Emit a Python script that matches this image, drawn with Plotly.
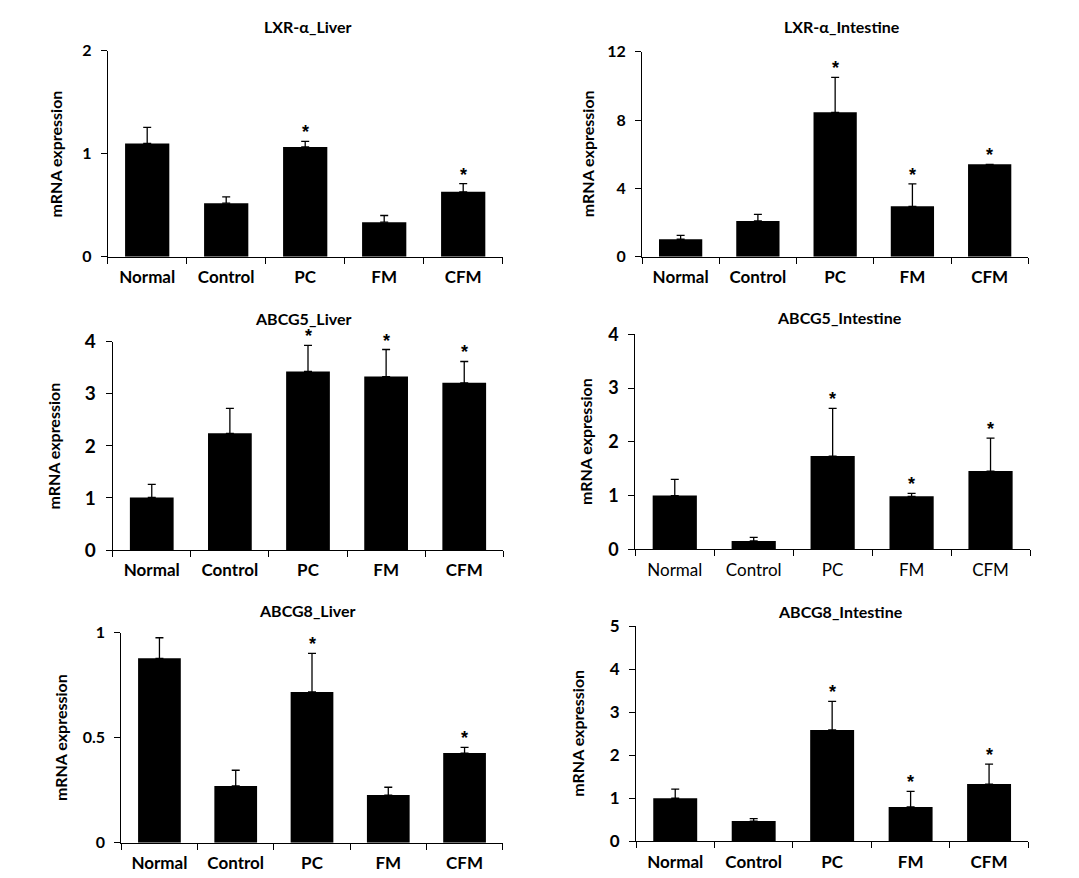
import plotly.graph_objects as go

W, H = 1079, 878
categories = ["Normal", "Control", "PC", "FM", "CFM"]

panel_titles = ["LXR-α_Liver", "LXR-α_Intestine", "ABCG5_Liver",
                "ABCG5_Intestine", "ABCG8_Liver", "ABCG8_Intestine"]

lxr_liver_mean = [1.10, 0.52, 1.065, 0.335, 0.63]
lxr_liver_err = [0.155, 0.06, 0.055, 0.065, 0.08]
lxr_liver_sig = [False, False, True, False, True]

lxr_int_mean = [1.02, 2.09, 8.45, 2.95, 5.41]
lxr_int_err = [0.23, 0.39, 2.05, 1.31, 0.0]
lxr_int_sig = [False, False, True, True, True]

abcg5_liver_mean = [1.01, 2.24, 3.43, 3.33, 3.21]
abcg5_liver_err = [0.25, 0.48, 0.50, 0.52, 0.41]
abcg5_liver_sig = [False, False, True, True, True]

abcg5_int_mean = [1.00, 0.155, 1.735, 0.985, 1.455]
abcg5_int_err = [0.30, 0.065, 0.885, 0.055, 0.615]
abcg5_int_sig = [False, False, True, True, True]

abcg8_liver_mean = [0.878, 0.27, 0.718, 0.227, 0.427]
abcg8_liver_err = [0.098, 0.075, 0.184, 0.037, 0.027]
abcg8_liver_sig = [False, False, True, False, True]

abcg8_int_mean = [1.00, 0.47, 2.585, 0.796, 1.33]
abcg8_int_err = [0.21, 0.055, 0.665, 0.364, 0.46]
abcg8_int_sig = [False, False, True, True, True]

y_ticks = [[0, 1, 2], [0, 4, 8, 12], [0, 1, 2, 3, 4],
           [0, 1, 2, 3, 4], [0, 0.5, 1], [0, 1, 2, 3, 4, 5]]
y_max = [2, 12, 4, 4, 1, 5]

means = [lxr_liver_mean, lxr_int_mean, abcg5_liver_mean,
         abcg5_int_mean, abcg8_liver_mean, abcg8_int_mean]
errs = [lxr_liver_err, lxr_int_err, abcg5_liver_err,
        abcg5_int_err, abcg8_liver_err, abcg8_int_err]
sigs = [lxr_liver_sig, lxr_int_sig, abcg5_liver_sig,
        abcg5_int_sig, abcg8_liver_sig, abcg8_int_sig]

# plot-area boxes in pixels: left, right, top, bottom
boxes = [(107.7, 502.7, 50.7, 256.7), (642, 1028.3, 51.7, 256.7),
         (112.7, 503.3, 341.7, 550), (635.3, 1030, 334.3, 549.3),
         (121.3, 502.7, 632.7, 842.7), (636, 1028.3, 626, 841.3)]
ytitle_shift = [-52, -55, -59, -50, -61, -58]
title_shift = [24, 25, 23, 17, 22, 15]
title_xshift = [3, 7, -5, 7, -5, 8]
ytick_size = [16, 16, 19, 18, 16, 17]

FONT = "Lato"
fig = go.Figure()
annotations = []
layout = dict(width=W, height=H, margin=dict(l=0, r=0, t=0, b=0,
                                             autoexpand=False),
              paper_bgcolor="white", plot_bgcolor="white", showlegend=False,
              bargap=0.44, font=dict(family=FONT, color="black"))

for i in range(6):
    n = "" if i == 0 else str(i + 1)
    xa, ya = "x" + n, "y" + n
    l, r, t, b = boxes[i]
    fig.add_trace(go.Bar(
        x=categories, y=means[i], xaxis=xa, yaxis=ya,
        marker=dict(color="black", line=dict(width=0)),
        error_y=dict(type="data", symmetric=False, array=errs[i],
                     arrayminus=[0] * 5, color="black",
                     thickness=1.3, width=4)))
    xfont = dict(family=FONT, size=17, color="black",
                 weight="normal" if i == 3 else "bold")
    layout["xaxis" + n] = dict(
        domain=[l / W, r / W], anchor=ya, type="category",
        range=[-0.5, 4.5], showline=True, linecolor="black", linewidth=1,
        ticks="outside", tickson="boundaries", ticklen=6, tickcolor="black",
        tickwidth=1, tickfont=xfont, ticklabelstandoff=5, automargin=False,
        showgrid=False, zeroline=False, fixedrange=True)
    layout["yaxis" + n] = dict(
        domain=[1 - b / H, 1 - t / H], anchor=xa, range=[0, y_max[i]],
        tickvals=y_ticks[i], ticktext=[str(v) for v in y_ticks[i]],
        showline=True, linecolor="black", linewidth=1, ticks="outside",
        ticklen=6, tickcolor="black", tickwidth=1, automargin=False,
        tickfont=dict(family=FONT, size=ytick_size[i], color="black",
                      weight="bold"),
        ticklabelstandoff=6, showgrid=False, zeroline=False,
        fixedrange=True)
    annotations.append(dict(
        text="mRNA expression", xref=xa + " domain", yref=ya + " domain",
        x=0, y=0.5, xshift=ytitle_shift[i], textangle=-90,
        showarrow=False, xanchor="center", yanchor="middle",
        font=dict(family=FONT, size=16, color="black", weight="bold")))
    annotations.append(dict(
        text=panel_titles[i], xref=xa + " domain", yref=ya + " domain",
        x=0.5, y=1, yshift=title_shift[i], xshift=title_xshift[i],
        showarrow=False, xanchor="center", yanchor="middle",
        font=dict(family=FONT, size=16, color="black", weight="bold")))
    for c, m, e, s in zip(categories, means[i], errs[i], sigs[i]):
        if s:
            annotations.append(dict(
                text="*", xref=xa, yref=ya, x=c, y=m + e, yshift=-3,
                showarrow=False, xanchor="center", yanchor="bottom",
                font=dict(family="Liberation Sans", size=18, color="black",
                          weight="bold")))

layout["annotations"] = annotations
fig.update_layout(**layout)
fig.write_html(
    "out.html",
    config={"displayModeBar": False},
    post_script="document.body.style.margin='0';"
                "document.body.style.overflow='hidden';")
